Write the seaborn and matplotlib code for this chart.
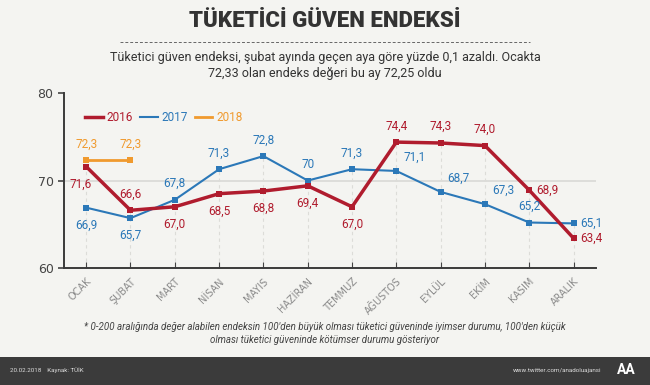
import matplotlib
matplotlib.use('Agg')
import matplotlib.pyplot as plt
import pandas as pd
import seaborn as sns

# Data
months = ['OCAK', 'ŞUBAT', 'MART', 'NİSAN', 'MAYIS', 'HAZİRAN',
          'TEMMUZ', 'AĞUSTOS', 'EYLÜL', 'EKİM', 'KASIM', 'ARALIK']
values_2016 = [71.6, 66.6, 67.0, 68.5, 68.8, 69.4, 67.0, 74.4, 74.3, 74.0, 68.9, 63.4]
values_2017 = [66.9, 65.7, 67.8, 71.3, 72.8, 70.0, 71.3, 71.1, 68.7, 67.3, 65.2, 65.1]
values_2018 = [72.3, 72.3]
labels_2017 = ['66,9', '65,7', '67,8', '71,3', '72,8', '70', '71,3', '71,1', '68,7', '67,3', '65,2', '65,1']

# where each value label sits relative to its point
place_2016 = ['bl', 'a', 'b', 'b', 'b', 'b', 'b', 'a', 'a', 'a', 'r', 'r']
place_2017 = ['b', 'b', 'a', 'a', 'a', 'a', 'a', 'ar', 'ar', 'ar', 'a', 'r']
place_2018 = ['a', 'a']

colors = {'2016': '#b01c2e', '2017': '#2b78b8', '2018': '#f09a2e'}
widths = {'2016': 2.5, '2017': 1.5, '2018': 2.0}

rows = []
for year, vals in [('2016', values_2016), ('2017', values_2017), ('2018', values_2018)]:
    for i, v in enumerate(vals):
        rows.append({'year': year, 'month': i, 'value': v})
df = pd.DataFrame(rows)

bg = '#f4f4f1'
fig = plt.figure(figsize=(6.5, 3.85), dpi=100, facecolor=bg)
ax = fig.add_axes([0.0985, 0.304, 0.818, 0.454])
ax.set_facecolor(bg)
plt.rcParams['font.family'] = ['Roboto', 'DejaVu Sans']

# light guides
ax.axhline(70, color='#d9d9d6', lw=1.2, zorder=0)
tops = [max(values_2016[i], values_2017[i]) for i in range(len(months))]
ax.vlines(range(len(months)), 60, tops, colors='#dcdcd8', linestyles=(0, (3, 3)), lw=0.8, zorder=0)

for year in ['2016', '2017', '2018']:
    sub = df[df['year'] == year]
    sns.lineplot(data=sub, x='month', y='value', ax=ax, color=colors[year],
                 lw=widths[year], marker='s', markersize=5, markeredgewidth=0,
                 label=year, zorder=3 if year == '2016' else 2)

offsets = {'a': (0, 7, 'center', 'bottom'), 'b': (0, -8, 'center', 'top'),
           'bl': (-4, -8, 'center', 'top'), 'r': (5, 0, 'left', 'center'),
           'ar': (5, 5, 'left', 'bottom')}

def annotate(vals, texts, places, color):
    for i, (v, t, p) in enumerate(zip(vals, texts, places)):
        dx, dy, ha, va = offsets[p]
        ax.annotate(t, (i, v), xytext=(dx, dy), textcoords='offset points',
                    ha=ha, va=va, color=color, fontsize=8.5)

fmt = lambda v: f'{v:.1f}'.replace('.', ',')
annotate(values_2016, [fmt(v) for v in values_2016], place_2016, colors['2016'])
annotate(values_2017, labels_2017, place_2017, colors['2017'])
annotate(values_2018, [fmt(v) for v in values_2018], place_2018, colors['2018'])

ax.set_xlim(-0.5, 11.5)
ax.set_ylim(60, 80)
ax.set_yticks([60, 70, 80])
ax.set_xticks(range(len(months)))
ax.set_xticklabels(months, rotation=45, ha='right', rotation_mode='anchor',
                   fontsize=7, color='#8a8a8a')
ax.tick_params(axis='y', labelsize=9, colors='#444444', length=4, width=1.2)
ax.tick_params(axis='x', direction='in', length=4, width=0.8, color='#444444', pad=6)
ax.set_xlabel('')
ax.set_ylabel('')
for s in ['top', 'right']:
    ax.spines[s].set_visible(False)
for s in ['left', 'bottom']:
    ax.spines[s].set_color('#3a3a3a')
    ax.spines[s].set_linewidth(1.4)

leg = ax.legend(loc='upper left', bbox_to_anchor=(0.02, 0.96), ncol=3, frameon=False,
                fontsize=8.5, handlelength=1.5, handletextpad=0.3, columnspacing=0.6,
                labelcolor='linecolor')
for h in leg.legend_handles:
    h.set_marker('')

# header
fig.text(0.5, 0.945, 'TÜKETİCİ GÜVEN ENDEKSİ', ha='center', va='center',
         fontsize=16, fontweight='black', color='#333333')
fig.add_artist(plt.Line2D([0.185, 0.815], [0.892, 0.892], color='#666666',
                          lw=0.7, ls=(0, (3, 2))))
fig.text(0.5, 0.83, 'Tüketici güven endeksi, şubat ayında geçen aya göre yüzde 0,1 azaldı. Ocakta\n'
         '72,33 olan endeks değeri bu ay 72,25 oldu', ha='center', va='center',
         fontsize=9, color='#333333', linespacing=1.35)

# footnote
fig.text(0.5, 0.133, "* 0-200 aralığında değer alabilen endeksin 100'den büyük olması tüketici güveninde iyimser durumu, 100'den küçük\n"
         "olması tüketici güveninde kötümser durumu gösteriyor", ha='center', va='center',
         fontsize=7, style='italic', color='#444444', linespacing=1.4)

# footer band
fig.add_artist(plt.Rectangle((0, 0), 1, 0.073, transform=fig.transFigure,
                             facecolor='#3b3b3b', edgecolor='none'))
fig.text(0.015, 0.038, '20.02.2018    Kaynak: TÜİK', ha='left', va='center',
         fontsize=4.5, color='#dddddd')
fig.text(0.925, 0.038, 'www.twitter.com/anadoluajansi', ha='right', va='center',
         fontsize=4.5, color='#dddddd')
fig.text(0.963, 0.038, 'AA', ha='center', va='center', fontsize=10,
         fontweight='bold', color='white')

fig.savefig('out.png', dpi=100, facecolor=bg)
